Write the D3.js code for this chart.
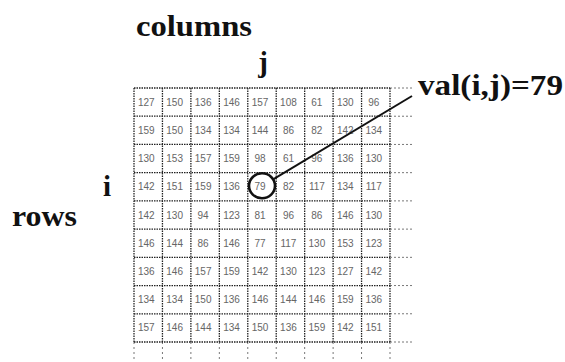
<!DOCTYPE html>
<html>
<head>
<meta charset="utf-8">
<script src="https://cdn.jsdelivr.net/npm/d3@7"></script>
<style>
  html, body { margin: 0; padding: 0; background: #fff; }
  svg { display: block; }
</style>
</head>
<body>
<svg id="chart" width="565" height="362"></svg>
<script>
const rowIndex = [0, 1, 2, 3, 4, 5, 6, 7, 8];
const colIndex = [0, 1, 2, 3, 4, 5, 6, 7, 8];
const row1 = [127, 150, 136, 146, 157, 108, 61, 130, 96];
const row2 = [159, 150, 134, 134, 144, 86, 82, 142, 134];
const row3 = [130, 153, 157, 159, 98, 61, 96, 136, 130];
const row4 = [142, 151, 159, 136, 79, 82, 117, 134, 117];
const row5 = [142, 130, 94, 123, 81, 96, 86, 146, 130];
const row6 = [146, 144, 86, 146, 77, 117, 130, 153, 123];
const row7 = [136, 146, 157, 159, 142, 130, 123, 127, 142];
const row8 = [134, 134, 150, 136, 146, 144, 146, 159, 136];
const row9 = [157, 146, 144, 134, 150, 136, 159, 142, 151];
const gridRows = [row1, row2, row3, row4, row5, row6, row7, row8, row9];
const highlightRow = 3;
const highlightCol = 4;
const labelColumns = "columns";
const labelRows = "rows";
const labelI = "i";
const labelJ = "j";
const labelVal = "val(i,j)=" + gridRows[highlightRow][highlightCol];

const svg = d3.select("#chart");
const x = d3.scaleBand().domain(colIndex).range([134, 390]).paddingInner(0).paddingOuter(0);
const y = d3.scaleBand().domain(rowIndex).range([88, 342]).paddingInner(0).paddingOuter(0);
const bw = x.bandwidth(), bh = y.bandwidth();

const xb = colIndex.map(c => x(c)).concat([x(colIndex[colIndex.length - 1]) + bw]);
const yb = rowIndex.map(r => y(r)).concat([y(rowIndex[rowIndex.length - 1]) + bh]);

const lineColor = "#222";
const g = svg.append("g");

// extension dotted lines
g.selectAll("line.hext").data(yb).join("line")
  .attr("x1", x.range()[1]).attr("x2", x.range()[1] + 24)
  .attr("y1", d => d).attr("y2", d => d)
  .attr("stroke", "#777").attr("stroke-width", 1).attr("stroke-dasharray", "2,2");
g.selectAll("line.vext").data(xb).join("line")
  .attr("x1", d => d).attr("x2", d => d)
  .attr("y1", y.range()[1]).attr("y2", 362)
  .attr("stroke", "#777").attr("stroke-width", 1).attr("stroke-dasharray", "2,3");

// grid lines
g.selectAll("line.h").data(yb).join("line")
  .attr("x1", x.range()[0]).attr("x2", x.range()[1])
  .attr("y1", d => d).attr("y2", d => d)
  .attr("stroke", lineColor).attr("stroke-width", 1.3).attr("stroke-dasharray", "1.5,1");
g.selectAll("line.v").data(xb).join("line")
  .attr("x1", d => d).attr("x2", d => d)
  .attr("y1", y.range()[0]).attr("y2", y.range()[1])
  .attr("stroke", lineColor).attr("stroke-width", 1.3).attr("stroke-dasharray", "1.5,1");

// cell values
const cells = [];
gridRows.forEach((r, i) => r.forEach((v, j) => cells.push({ i, j, v })));
g.selectAll("text.cell").data(cells).join("text")
  .attr("x", d => x(d.j) + bw / 2 - 2)
  .attr("y", d => y(d.i) + bh / 2 + 3.5)
  .attr("text-anchor", "middle")
  .attr("font-family", "Liberation Sans, Arial, sans-serif")
  .attr("font-size", 10)
  .attr("fill", "#666")
  .text(d => d.v);

// highlight circle
const cx = x(highlightCol) + bw / 2, cy = y(highlightRow) + bh / 2;
const r = 13;
svg.append("ellipse").attr("cx", cx).attr("cy", cy - 1).attr("rx", r).attr("ry", 12.5)
  .attr("fill", "none").attr("stroke", "#111").attr("stroke-width", 2.6);

// callout line
const ang = Math.atan2(96 - cy, 412 - cx);
svg.append("line")
  .attr("x1", cx + r * Math.cos(ang)).attr("y1", cy - 1 + 12.5 * Math.sin(ang))
  .attr("x2", 412).attr("y2", 96)
  .attr("stroke", "#111").attr("stroke-width", 2);

const serif = "Liberation Serif, Times New Roman, serif";
function label(txt, xx, yy, len, anchor) {
  const t = svg.append("text").attr("x", xx).attr("y", yy)
    .attr("font-family", serif).attr("font-weight", "bold").attr("font-size", 29)
    .attr("fill", "#111").attr("text-anchor", anchor || "start").text(txt);
  if (len) t.attr("textLength", len).attr("lengthAdjust", "spacingAndGlyphs");
  return t;
}
label(labelColumns, 136, 36, 116);
label(labelJ, 263, 72, null, "middle");
label(labelI, 107, 196, null, "middle");
label(labelRows, 12, 226, 65);
label(labelVal, 418, 95, 145);
</script>
</body>
</html>
